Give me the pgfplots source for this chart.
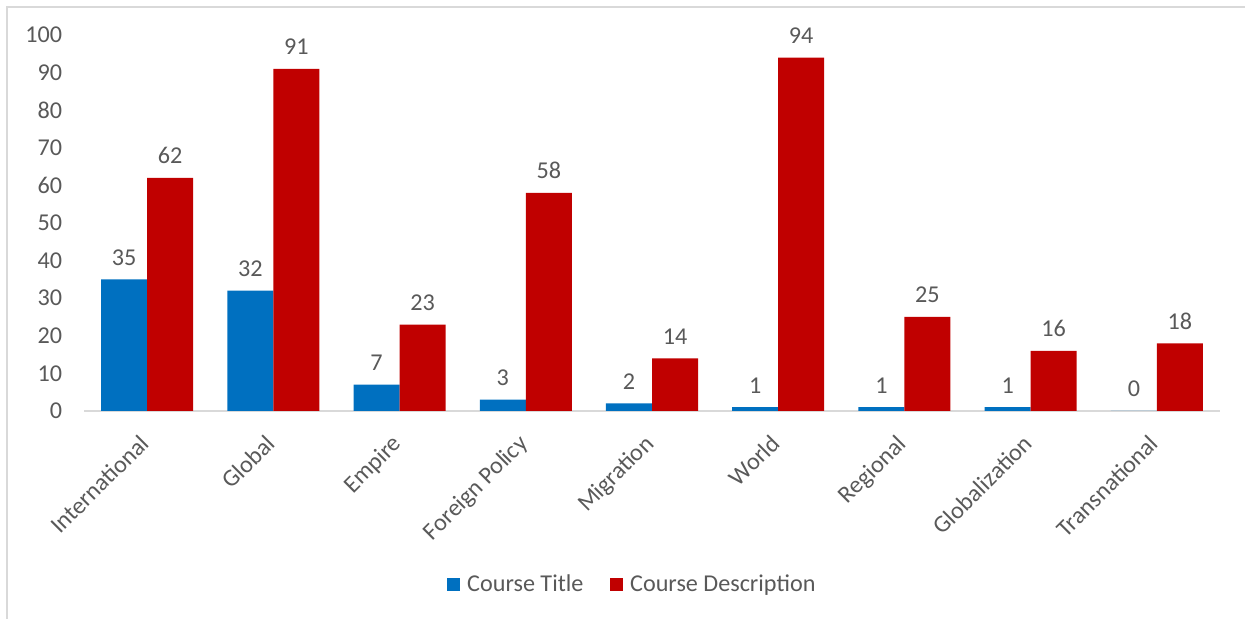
\documentclass[border=0pt]{standalone}
\usepackage{pgfplots}
\pgfplotsset{compat=1.18}
\usepackage{fontspec}
\setmainfont{Carlito}
\definecolor{cblue}{HTML}{0070C0}
\definecolor{cred}{HTML}{C00000}
\definecolor{ctext}{HTML}{595959}
\definecolor{cgrid}{HTML}{D9D9D9}
\begin{document}
\begin{tikzpicture}
\useasboundingbox (0pt,0pt) rectangle (747pt,371.4pt);
\draw[cgrid, line width=1.2pt] (4.2pt,-2pt) -- (4.2pt,367.2pt) -- (752pt,367.2pt);
\begin{axis}[
  at={(50.4pt,124.8pt)}, anchor=south west,
  scale only axis,
  width=681.6pt, height=225.6pt,
  ybar=0pt, bar width=27.6pt,
  xmin=-0.5, xmax=8.5, ymin=0, ymax=100,
  enlargelimits=false,
  axis x line=bottom, axis y line=left,
  x axis line style={-, draw=cgrid, line width=1pt},
  y axis line style={draw=none},
  major tick length=0pt,
  xtick={0,...,8},
  xticklabels={International,Global,Empire,Foreign Policy,Migration,World,Regional,Globalization,Transnational},
  ytick={0,10,...,100},
  /pgf/number format/assume math mode=true,
  font=\fontsize{14.5}{17}\selectfont\color{ctext},
  ticklabel style={font=\fontsize{14.5}{17}\selectfont, text=ctext},
  yticklabel style={anchor=east, inner sep=0pt, xshift=-13pt},
  xticklabel style={rotate=45, anchor=north east, inner sep=0pt, xshift=-13pt, yshift=-5.5pt},
  nodes near coords,
  every node near coord/.append style={font=\fontsize{14.5}{17}\selectfont, text=ctext, anchor=base, inner sep=0pt, yshift=8.5pt},
  legend columns=2,
  legend style={at={(0.4833,-0.462)}, anchor=center, draw=none, fill=none,
    font=\fontsize{14.5}{17}\selectfont, text=ctext,
    /tikz/every odd column/.append style={column sep=2.2pt},
    /tikz/every even column/.append style={column sep=14pt}},
  legend image code/.code={\fill[#1] (0pt,-3.9pt) rectangle (7.8pt,3.9pt);},
]
\addplot[fill=cblue, draw=none] coordinates {(0,35) (1,32) (2,7) (3,3) (4,2) (5,1) (6,1) (7,1) (8,0)};
\addplot[fill=cred, draw=none] coordinates {(0,62) (1,91) (2,23) (3,58) (4,14) (5,94) (6,25) (7,16) (8,18)};
\legend{Course Title, Course Description}
\end{axis}
\end{tikzpicture}
\end{document}
